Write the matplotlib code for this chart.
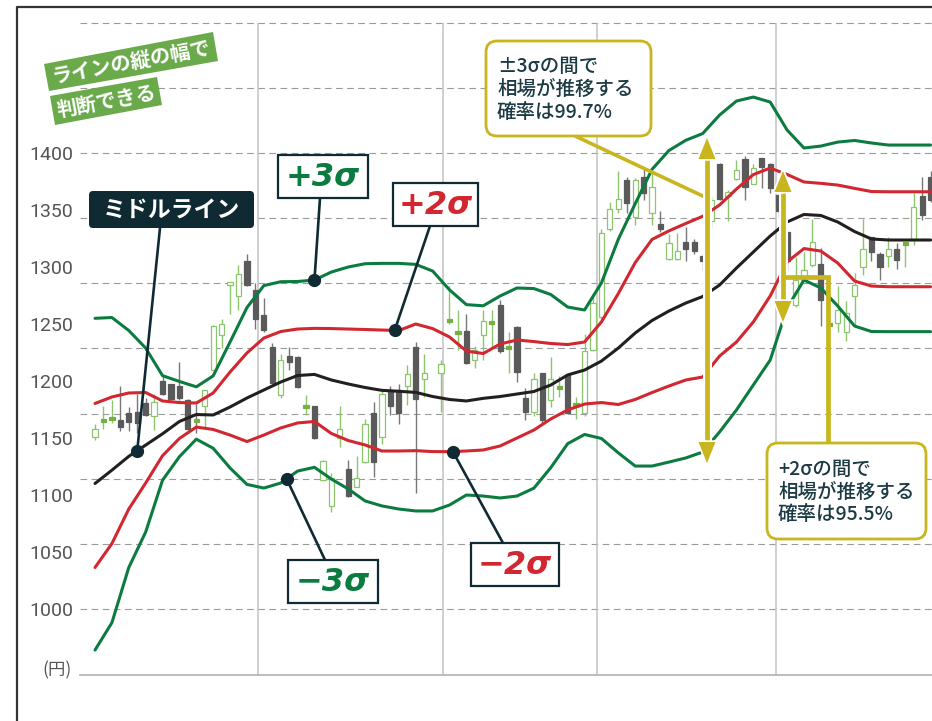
import numpy as np
import matplotlib
matplotlib.use("Agg")
import matplotlib.pyplot as plt
import matplotlib.patches as mpatches
import matplotlib.patheffects as pe

plt.rcParams['font.family'] = ['Noto Sans CJK JP', 'DejaVu Sans']

# ---------------------------------------------------------------------------
# Data (prices in yen, x = trading-day index)
# ---------------------------------------------------------------------------
candle_day = [0, 1, 2, 3, 4, 5, 6, 7, 8, 9, 10, 11, 12, 13, 14, 15, 16, 17, 18, 19,
              20, 21, 22, 23, 24, 25, 26, 27, 28, 29, 30, 31, 32, 33, 34, 35, 36, 37, 38, 39,
              41, 42, 43, 44, 45, 46, 47, 48, 49, 50, 51, 52, 53, 54, 55, 56, 57, 58, 59,
              60, 61, 62, 63, 64, 65, 66, 67, 68, 69, 70, 71, 72, 73, 74, 75, 76, 77, 78, 79,
              80, 81, 82, 83, 84, 85, 86, 87, 88, 89, 90, 91, 92, 93, 94, 95, 96, 97, 98, 99]
candle_open = [1151, 1165, 1166, 1166, 1172, 1173, 1181, 1169, 1200, 1197, 1196, 1183, 1166, 1178,
               1210, 1240, 1284, 1275, 1305, 1280, 1258, 1230, 1188, 1222, 1221, 1177, 1178, 1113,
               1090, 1150, 1123, 1107, 1129, 1172, 1151, 1192, 1192, 1196, 1230, 1202,
               1207, 1252, 1242, 1244, 1218, 1240, 1251, 1267, 1229, 1247, 1185, 1173, 1207, 1183,
               1194, 1205, 1179, 1172, 1227, 1256, 1333, 1351, 1376, 1344, 1379, 1347, 1338, 1307,
               1307, 1322, 1322, 1310, 1340, 1390, 1362, 1377, 1395, 1373, 1396, 1390, 1363, 1331,
               1267, 1289, 1302, 1303, 1249, 1251, 1243, 1275, 1300, 1326, 1311, 1310, 1316, 1320,
               1325, 1362, 1379]
candle_close = [1158, 1166, 1168, 1160, 1164, 1163, 1170, 1182, 1189, 1184, 1185, 1158, 1164, 1192,
                1248, 1250, 1287, 1294, 1284, 1254, 1245, 1198, 1218, 1217, 1195, 1179, 1150, 1130,
                1115, 1158, 1099, 1115, 1162, 1129, 1189, 1178, 1172, 1206, 1184, 1207,
                1215, 1254, 1243, 1216, 1227, 1253, 1252, 1226, 1230, 1208, 1173, 1202, 1166, 1202,
                1195, 1172, 1180, 1226, 1268, 1330, 1351, 1360, 1356, 1376, 1365, 1370, 1333, 1321,
                1314, 1316, 1314, 1305, 1359, 1360, 1366, 1385, 1370, 1387, 1388, 1369, 1349, 1305,
                1289, 1297, 1322, 1271, 1250, 1262, 1260, 1284, 1316, 1313, 1300, 1316, 1306, 1321,
                1353, 1346, 1359]
candle_high = [1162, 1178, 1183, 1196, 1177, 1189, 1185, 1189, 1204, 1197, 1217, 1184, 1180, 1192,
               1249, 1254, 1287, 1302, 1311, 1286, 1273, 1233, 1224, 1230, 1222, 1188, 1178, 1131,
               1119, 1178, 1131, 1134, 1167, 1182, 1191, 1196, 1197, 1214, 1234, 1224,
               1218, 1283, 1262, 1259, 1231, 1262, 1262, 1271, 1243, 1248, 1194, 1207, 1207, 1221,
               1204, 1207, 1186, 1241, 1277, 1333, 1357, 1384, 1379, 1378, 1387, 1384, 1349, 1329,
               1330, 1335, 1325, 1311, 1362, 1391, 1368, 1394, 1397, 1390, 1396, 1391, 1365, 1331,
               1309, 1313, 1342, 1317, 1252, 1283, 1270, 1295, 1342, 1326, 1313, 1326, 1321, 1321,
               1365, 1379, 1384]
candle_low = [1148, 1158, 1163, 1156, 1156, 1154, 1169, 1157, 1188, 1183, 1183, 1157, 1154, 1160,
              1210, 1229, 1259, 1262, 1283, 1246, 1243, 1197, 1185, 1210, 1194, 1170, 1149, 1112,
              1085, 1142, 1098, 1107, 1128, 1116, 1145, 1170, 1162, 1179, 1102, 1186,
              1173, 1250, 1227, 1215, 1211, 1218, 1230, 1225, 1207, 1199, 1166, 1169, 1163, 1177,
              1186, 1171, 1167, 1169, 1226, 1254, 1332, 1347, 1347, 1337, 1359, 1337, 1331, 1306,
              1306, 1305, 1311, 1297, 1335, 1359, 1340, 1376, 1359, 1373, 1369, 1365, 1344, 1297,
              1265, 1289, 1300, 1248, 1247, 1243, 1235, 1248, 1293, 1305, 1289, 1300, 1298, 1300,
              1319, 1341, 1357]

band_day = list(range(0, 99, 2)) + [99]
mid_line = [1110.1, 1121.8, 1133.9, 1143.8, 1153.7, 1164.5, 1170.6, 1170.2, 1177.2, 1185.1,
            1192.1, 1199.1, 1204.8, 1205.8, 1200.9, 1197.4, 1194.3, 1191.8, 1191.0, 1190.0,
            1186.4, 1183.8, 1182.5, 1184.8, 1186.4, 1188.6, 1190.8, 1196.5, 1205.3, 1209.6,
            1217.5, 1228.9, 1242.1, 1253.1, 1261.4, 1268.4, 1274.1, 1284.2, 1299.1, 1313.2,
            1327.2, 1339.5, 1346.1, 1345.2, 1339.5, 1331.1, 1324.6, 1323.7, 1323.7, 1323.7, 1323.7]
upper2 = [1180.3, 1186.0, 1189.5, 1189.9, 1182.5, 1181.1, 1180.7, 1189.5, 1207.9, 1224.6,
          1237.7, 1243.4, 1245.6, 1246.2, 1246.0, 1245.6, 1245.2, 1244.7, 1244.3, 1250.0,
          1246.0, 1238.6, 1226.3, 1224.1, 1232.5, 1236.0, 1234.6, 1232.9, 1232.0, 1234.2,
          1251.8, 1276.7, 1303.8, 1324.2, 1331.7, 1338.2, 1344.5, 1354.4, 1368.4, 1381.1,
          1386.8, 1381.2, 1374.6, 1373.4, 1371.9, 1369.0, 1366.2, 1366.0, 1366.0, 1366.0, 1366.0]
lower2 = [1036.4, 1057.4, 1087.7, 1110.5, 1134.5, 1149.6, 1159.6, 1157.5, 1152.6, 1146.9,
          1152.6, 1158.8, 1163.2, 1164.5, 1154.0, 1147.8, 1143.9, 1138.6, 1138.6, 1138.9,
          1138.1, 1138.0, 1138.6, 1139.5, 1143.0, 1150.0, 1157.0, 1166.7, 1174.6, 1179.8,
          1181.1, 1179.4, 1183.8, 1189.9, 1195.6, 1200.9, 1203.5, 1221.9, 1234.2, 1251.8,
          1274.6, 1304.4, 1316.2, 1314.0, 1303.5, 1287.7, 1283.3, 1282.7, 1282.7, 1282.7, 1282.7]
upper3 = [1255.0, 1255.7, 1244.3, 1228.9, 1204.7, 1199.6, 1194.9, 1204.5, 1234.2, 1264.4,
          1283.7, 1287.1, 1287.3, 1288.6, 1295.6, 1300.0, 1302.9, 1303.2, 1303.2, 1302.3,
          1296.5, 1280.0, 1267.0, 1266.0, 1274.6, 1281.6, 1281.1, 1275.9, 1264.9, 1262.3,
          1286.0, 1324.3, 1355.5, 1385.7, 1402.2, 1411.2, 1417.1, 1433.3, 1445.6, 1449.1,
          1444.7, 1420.2, 1404.4, 1406.1, 1409.6, 1411.0, 1408.8, 1407.0, 1407.0, 1407.0, 1407.0]
lower3 = [964.0, 988.0, 1036.4, 1067.5, 1113.0, 1133.6, 1149.0, 1141.0, 1123.7, 1109.3,
          1106.1, 1110.5, 1121.0, 1124.3, 1114.0, 1105.3, 1094.8, 1090.4, 1087.7, 1086.0,
          1086.0, 1091.2, 1100.0, 1099.1, 1097.4, 1099.1, 1106.0, 1124.0, 1145.0, 1153.1,
          1149.6, 1137.0, 1125.4, 1125.4, 1128.9, 1132.5, 1137.7, 1155.3, 1174.6, 1196.5,
          1218.4, 1264.0, 1288.6, 1281.6, 1265.8, 1248.2, 1243.4, 1243.3, 1243.3, 1243.3, 1243.3]

y_ticks = [1000, 1050, 1100, 1150, 1200, 1250, 1300, 1350, 1400]
month_breaks = [19.3, 41.2, 59.5, 80.7]

# ---------------------------------------------------------------------------
# Colours
# ---------------------------------------------------------------------------
GREEN = "#0c7b3f"
RED = "#d22630"
BLACK = "#231f20"
NAVY = "#0f2a33"
C_UP = "#8cc56e"
C_DOT = "#76b043"
C_DN = "#5a5a5a"
YELLOW = "#c9b51e"
TAG = "#6aaa4b"
TXT = "#1b3a44"

W, H = 932, 721
fig = plt.figure(figsize=(W / 100, H / 100), dpi=100)
ax = fig.add_axes([80 / W, (H - 675) / H, (W - 80) / W, (675 - 7) / H])
ax.set_xlim(-1.78, 99.17)
ax.set_ylim(942.1, 1528.1)

# grid (decorative, as in the original illustration)
grid_vals = 1000 + np.arange(10) * 400 / 7
for g in grid_vals:
    ax.axhline(g, color="#9a9a9a", lw=0.8, ls=(0, (6, 4)), zorder=0)
ax.vlines(month_breaks, 942.1, grid_vals[-1], colors="#c2c2c2", lw=1.1, zorder=0)

# ---------------------------------------------------------------------------
# Candlesticks
# ---------------------------------------------------------------------------
o = np.array(candle_open, float)
c = np.array(candle_close, float)
hi = np.array(candle_high, float)
lo = np.array(candle_low, float)
up = c >= o
dot = np.abs(c - o) <= 2

wick_col = np.where(up, C_UP, "#777777")
ax.vlines(candle_day, lo, hi, colors=wick_col, lw=1.0, zorder=1)

bottom = np.where(dot, (o + c) / 2 - 1.3, np.minimum(o, c))
height = np.where(dot, 2.6, np.abs(c - o))
face = np.where(dot, C_DOT, np.where(up, "white", C_DN))
edge = np.where(dot, C_DOT, np.where(up, C_UP, C_DN))
ax.bar(candle_day, height, bottom=bottom, width=0.62, color=face,
       edgecolor=edge, linewidth=0.9, zorder=2)

# ---------------------------------------------------------------------------
# Bollinger bands
# ---------------------------------------------------------------------------
for vals, col in [(upper3, GREEN), (lower3, GREEN), (upper2, RED),
                  (lower2, RED), (mid_line, BLACK)]:
    ax.plot(band_day, vals, color=col, lw=2.2, zorder=3,
            solid_capstyle="round", solid_joinstyle="round")

ax.set_xticks([])
ax.set_yticks(y_ticks)
ax.set_yticklabels([str(v) for v in y_ticks])
ax.tick_params(axis="y", length=0, pad=5, labelsize=14, labelcolor="#555555")
for lbl in ax.get_yticklabels():
    lbl.set_fontfamily(["Liberation Sans Narrow", "Roboto"])
for s in ["left", "top", "right"]:
    ax.spines[s].set_visible(False)
ax.spines["bottom"].set_color("#b0b0b0")
ax.spines["bottom"].set_linewidth(1.2)

# ---------------------------------------------------------------------------
# Overlay in pixel coordinates for labels and callouts
# ---------------------------------------------------------------------------
ov = fig.add_axes([0, 0, 1, 1], zorder=5)
ov.set_xlim(0, W)
ov.set_ylim(H, 0)
ov.axis("off")
ov.patch.set_alpha(0)


def to_px(day, series):
    val = np.interp(day, band_day, series)
    X, Y = ax.transData.transform((day, val))
    return X, H - Y


# outer frame
ov.plot([17, 17, W], [H, 7, 7], color="#333333", lw=1.6, zorder=1)

ov.text(57, 670, "(円)", ha="center", va="center", fontsize=12.5, color="#555555")

# green tag
ov.add_patch(mpatches.Polygon([(44, 64), (213, 32), (218, 61), (49, 91)],
                              closed=True, fc=TAG, ec="none", zorder=2))
ov.add_patch(mpatches.Polygon([(50, 96), (157, 77), (162, 105), (55, 125)],
                              closed=True, fc=TAG, ec="none", zorder=2))
ov.text(131, 62, "ラインの縦の幅で", rotation=10.5, ha="center", va="center",
        fontsize=14.5, color="white", fontweight="bold", zorder=3,
        rotation_mode="anchor")
ov.text(106, 101, "判断できる", rotation=10.5, ha="center", va="center",
        fontsize=14.5, color="white", fontweight="bold", zorder=3,
        rotation_mode="anchor")

# leader lines + markers
leaders = [
    ((160, 228), to_px(5, mid_line)),
    ((320, 198), to_px(26, upper3)),
    ((430, 226), to_px(35.5, upper2)),
    ((325, 560), to_px(22.7, lower3)),
    ((503, 543), to_px(42.4, lower2)),
]
for (x0, y0), (mx, my) in leaders:
    ov.plot([x0, mx], [y0, my], color=NAVY, lw=1.9, zorder=4)
    ov.plot(mx, my, "o", ms=8.5, color=NAVY, zorder=5)

# middle-line tag
ov.add_patch(mpatches.FancyBboxPatch((89, 191), 165, 37,
                                     boxstyle="round,pad=0,rounding_size=4",
                                     fc=NAVY, ec="none", zorder=6))
ov.text(171.5, 210, "ミドルライン", ha="center", va="center", fontsize=16.5,
        color="white", fontweight="bold", zorder=7)

# sigma boxes
sig_boxes = [
    (278, 155, 368, 198, "+3σ", GREEN),
    (393, 183, 478, 226, "+2σ", RED),
    (288, 560, 378, 603, "−3σ", GREEN),
    (471, 543, 559, 586, "−2σ", RED),
]
for x0, y0, x1, y1, txt, col in sig_boxes:
    ov.add_patch(mpatches.Rectangle((x0, y0), x1 - x0, y1 - y0, fc="white",
                                    ec=NAVY, lw=1.6, zorder=6))
    ov.text((x0 + x1) / 2, (y0 + y1) / 2 + 1, txt, ha="center", va="center",
            fontsize=23, color=col, fontweight="bold", fontstyle="italic",
            family="DejaVu Sans", zorder=7)

# ---------------------------------------------------------------------------
# Yellow callouts and double arrows
# ---------------------------------------------------------------------------
halo = [pe.Stroke(linewidth=6.5, foreground="white"), pe.Normal()]

ov.plot([575, 707], [136, 198], color=YELLOW, lw=2.6, zorder=8,
        solid_capstyle="butt")


def double_arrow(x, top, bot, head=21, half=8.5):
    ov.plot([x, x], [top + head - 2, bot - head + 2], color=YELLOW, lw=3.4,
            zorder=9, solid_capstyle="butt", path_effects=halo)
    for tip, base in [(top, top + head), (bot, bot - head)]:
        ov.add_patch(mpatches.Polygon([(x, tip), (x - half, base), (x + half, base)],
                                      closed=True, fc=YELLOW, ec="none", zorder=10,
                                      path_effects=[pe.Stroke(linewidth=2.5, foreground="white"),
                                                    pe.Normal()]))


double_arrow(707, 138, 463)
double_arrow(783, 171, 322)
ov.plot([783, 828, 828], [277, 277, 443], color=YELLOW, lw=3.4, zorder=9,
        solid_joinstyle="miter", solid_capstyle="butt")

callouts = [
    (486, 41, 651, 136, "±3σの間で\n相場が推移する\n確率は99.7%"),
    (767, 443, 926, 539, "+2σの間で\n相場が推移する\n確率は95.5%"),
]
for x0, y0, x1, y1, txt in callouts:
    ov.add_patch(mpatches.FancyBboxPatch((x0, y0), x1 - x0, y1 - y0,
                                         boxstyle="round,pad=0,rounding_size=11",
                                         fc="white", ec=YELLOW, lw=2.0, zorder=11))
    ov.text(x0 + 11, (y0 + y1) / 2 + 1, txt, ha="left", va="center",
            fontsize=14, color=TXT, linespacing=1.25, zorder=12,
            fontweight="medium")

fig.savefig("out.png", dpi=100)
